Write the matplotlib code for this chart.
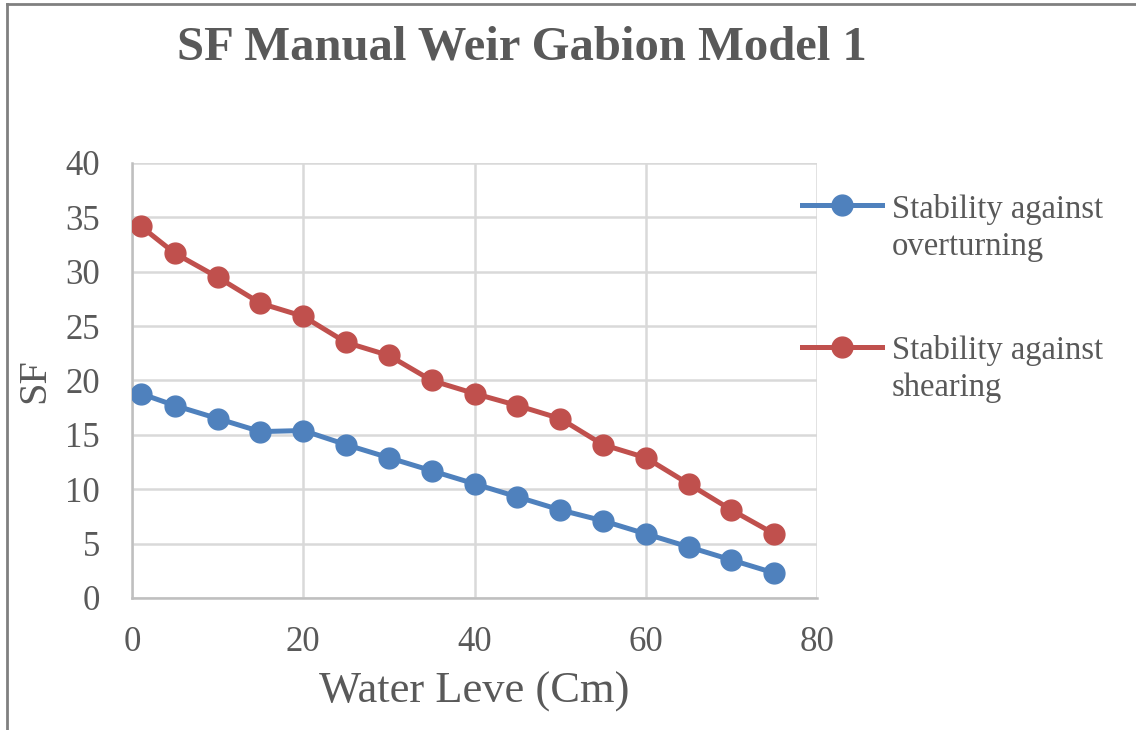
import matplotlib
matplotlib.use("Agg")
import matplotlib.pyplot as plt
from matplotlib.lines import Line2D
from matplotlib.legend_handler import HandlerLine2D

water_level = [1, 5, 10, 15, 20, 25, 30, 35, 40, 45, 50, 55, 60, 65, 70, 75]
overturning = [18.8, 17.7, 16.5, 15.3, 15.4, 14.1, 12.9, 11.7, 10.5, 9.3, 8.1, 7.1, 5.9, 4.7, 3.5, 2.3]
shearing = [34.2, 31.7, 29.5, 27.1, 25.9, 23.5, 22.3, 20.0, 18.8, 17.7, 16.5, 14.1, 12.9, 10.5, 8.1, 5.9]
series_names = ["Stability against\noverturning", "Stability against\nshearing"]
title = "SF Manual Weir Gabion Model 1"
x_label = "Water Leve (Cm)"
y_label = "SF"

plt.rcParams['font.family'] = ['Liberation Serif', 'DejaVu Serif']
grey = "#595959"

fig = plt.figure(figsize=(11.36, 7.30), dpi=100)
ax = fig.add_axes([132/1136, 1-598/730, (817-132)/1136, (598-163)/730])

blue = "#4F81BD"
red = "#C0504D"
ax.plot(water_level, overturning, color=blue, lw=3.6, marker='o', ms=15, label=series_names[0], zorder=3)
ax.plot(water_level, shearing, color=red, lw=3.6, marker='o', ms=15, label=series_names[1], zorder=3)

ax.set_xlim(0, 80)
ax.set_ylim(0, 40)
ax.set_xticks(range(0, 81, 20))
ax.set_yticks(range(0, 41, 5))
ax.grid(True, color="#D9D9D9", lw=1.8)
ax.set_axisbelow(True)
for s in ax.spines.values():
    s.set_visible(False)
for side in ('left', 'bottom'):
    ax.spines[side].set_visible(True)
    ax.spines[side].set_color("#BFBFBF")
    ax.spines[side].set_linewidth(1.8)
ax.tick_params(length=0, labelsize=25, labelcolor=grey)
ax.tick_params(axis='x', pad=20)
ax.tick_params(axis='y', pad=23)

ax.set_xlabel(x_label, fontsize=32, color=grey, labelpad=9)
ax.set_ylabel(y_label, fontsize=29, color=grey, labelpad=9)

fig.text(522/1136, 1-48/730, title, fontsize=35, fontweight='bold', color=grey, ha='center', va='center')


class UpHandler(HandlerLine2D):
    def create_artists(self, legend, orig_handle, xdescent, ydescent, width, height, fontsize, trans):
        artists = super().create_artists(legend, orig_handle, xdescent, ydescent, width, height, fontsize, trans)
        for a in artists:
            a.set_ydata([y + 0.7 * fontsize for y in a.get_ydata()])
        return artists


leg = fig.legend(loc='upper left', bbox_to_anchor=(789/1136, 1-181/730), frameon=False,
                 fontsize=23.5, handlelength=2.45, labelspacing=2.25, handletextpad=0.3,
                 borderaxespad=0, handler_map={Line2D: UpHandler()})
for t in leg.get_texts():
    t.set_color(grey)
    t.set_linespacing(1.27)

fig.add_artist(Line2D([7/1136, 7/1136], [0, 1-4/730], transform=fig.transFigure, color="#808080", lw=2))
fig.add_artist(Line2D([7/1136, 1], [1-4/730, 1-4/730], transform=fig.transFigure, color="#808080", lw=2))

fig.savefig("out.png", dpi=100)
